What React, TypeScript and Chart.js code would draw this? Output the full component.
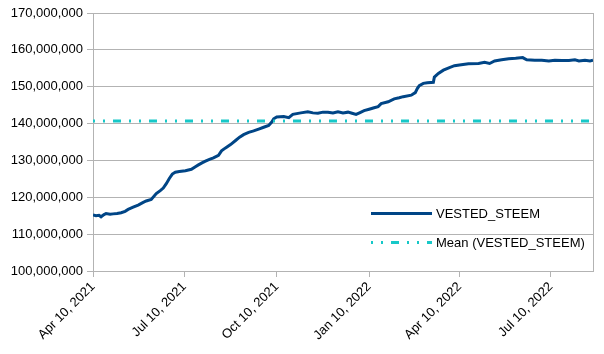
import React, { useEffect, useRef } from "react";
import { Chart, registerables } from "chart.js";

Chart.register(...registerables);

const START_DATE = "2021-04-10";
const END_DATE = "2022-08-21";

const dates: string[] = [
  "2021-04-10", "2021-04-13", "2021-04-16", "2021-04-18", "2021-04-21", "2021-04-23", "2021-04-27", "2021-04-30",
  "2021-05-04", "2021-05-08", "2021-05-12", "2021-05-15", "2021-05-20", "2021-05-25", "2021-05-30",
  "2021-06-02", "2021-06-07", "2021-06-12", "2021-06-16", "2021-06-19", "2021-06-22", "2021-06-25", "2021-06-28",
  "2021-07-01", "2021-07-05", "2021-07-11", "2021-07-17", "2021-07-21", "2021-07-24", "2021-07-28", "2021-07-31",
  "2021-08-04", "2021-08-08", "2021-08-13", "2021-08-16", "2021-08-20", "2021-08-25", "2021-08-30",
  "2021-09-03", "2021-09-07", "2021-09-12", "2021-09-17", "2021-09-22", "2021-09-27",
  "2021-10-02", "2021-10-05", "2021-10-07", "2021-10-10", "2021-10-17", "2021-10-22", "2021-10-26",
  "2021-11-03", "2021-11-10", "2021-11-15", "2021-11-20", "2021-11-25", "2021-11-30",
  "2021-12-05", "2021-12-10", "2021-12-15", "2021-12-20", "2021-12-24", "2021-12-28",
  "2022-01-01", "2022-01-05", "2022-01-10", "2022-01-15", "2022-01-19", "2022-01-22", "2022-01-29",
  "2022-02-04", "2022-02-09", "2022-02-13", "2022-02-21", "2022-02-25", "2022-02-27",
  "2022-03-01", "2022-03-05", "2022-03-09", "2022-03-15", "2022-03-16", "2022-03-20", "2022-03-25", "2022-03-31",
  "2022-04-05", "2022-04-10", "2022-04-19", "2022-04-29",
  "2022-05-05", "2022-05-10", "2022-05-15", "2022-05-22", "2022-05-29",
  "2022-06-05", "2022-06-12", "2022-06-16", "2022-06-24",
  "2022-07-01", "2022-07-08", "2022-07-14", "2022-07-21", "2022-07-28",
  "2022-08-03", "2022-08-07", "2022-08-13", "2022-08-18", "2022-08-21",
];

// VESTED_STEEM, in millions
const vestedMillions: number[] = [
  115.2, 115.0, 115.1, 114.7, 115.3, 115.6, 115.4, 115.5,
  115.6, 115.8, 116.2, 116.7, 117.3, 117.9, 118.6,
  119.0, 119.4, 121.0, 121.8, 122.5, 123.7, 125.1, 126.3,
  126.8, 127.0, 127.2, 127.6, 128.3, 128.8, 129.4, 129.8,
  130.3, 130.7, 131.4, 132.6, 133.4, 134.3, 135.4,
  136.3, 137.0, 137.6, 138.0, 138.5, 139.0,
  139.5, 140.4, 141.3, 141.8, 141.9, 141.6, 142.5,
  142.9, 143.2, 142.9, 142.8, 143.1, 143.1,
  142.9, 143.2, 142.9, 143.1, 142.8, 142.5,
  143.0, 143.5, 143.9, 144.3, 144.6, 145.4, 145.9,
  146.7, 147.0, 147.3, 147.7, 148.4, 149.5,
  150.3, 150.9, 151.1, 151.2, 152.6, 153.6, 154.5, 155.2,
  155.7, 155.9, 156.2, 156.3,
  156.6, 156.3, 157.0, 157.3, 157.6,
  157.7, 157.9, 157.3, 157.2,
  157.2, 157.0, 157.2, 157.1, 157.1,
  157.3, 157.0, 157.2, 157.0, 157.2,
];

const MEAN_VALUE = 140700000;

const xTickDates: string[] = ["2021-04-10", "2021-07-10", "2021-10-10", "2022-01-10", "2022-04-10", "2022-07-10"];
const xTickLabels: string[] = ["Apr 10, 2021", "Jul 10, 2021", "Oct 10, 2021", "Jan 10, 2022", "Apr 10, 2022", "Jul 10, 2022"];

const Y_MIN = 100000000;
const Y_MAX = 170000000;
const Y_STEP = 10000000;

const seriesLabel = "VESTED_STEEM";
const meanLabel = "Mean (VESTED_STEEM)";

const MAIN_COLOR = "#004586";
const MEAN_COLOR = "#17c8c8";
const GRID_COLOR = "#b3b3b3";
const FONT = "'Liberation Sans', Arial, sans-serif";
const MEAN_DASH = [8, 8, 2, 8, 2, 8];

const dayOf = (d: string) => (Date.parse(d) - Date.parse(START_DATE)) / 86400000;

export default function App() {
  const ref = useRef<HTMLCanvasElement | null>(null);

  useEffect(() => {
    if (!ref.current) return;
    const xMax = dayOf(END_DATE);

    const framePlugin = {
      id: "frame",
      beforeDatasetsDraw(chart: any) {
        const { ctx, chartArea } = chart;
        ctx.save();
        ctx.strokeStyle = GRID_COLOR;
        ctx.lineWidth = 1;
        ctx.beginPath();
        ctx.moveTo(Math.round(chartArea.right) + 0.5, chartArea.top);
        ctx.lineTo(Math.round(chartArea.right) + 0.5, chartArea.bottom);
        ctx.stroke();
        ctx.restore();
      },
    };

    const legendPlugin = {
      id: "innerLegend",
      afterDatasetsDraw(chart: any) {
        const { ctx } = chart;
        ctx.save();
        ctx.font = `13px ${FONT}`;
        ctx.fillStyle = "#000";
        ctx.textBaseline = "middle";
        ctx.textAlign = "left";
        // entry 1
        ctx.strokeStyle = MAIN_COLOR;
        ctx.lineWidth = 3;
        ctx.setLineDash([]);
        ctx.beginPath();
        ctx.moveTo(371, 213.5);
        ctx.lineTo(432, 213.5);
        ctx.stroke();
        ctx.fillText(seriesLabel, 436, 214);
        // entry 2
        ctx.strokeStyle = MEAN_COLOR;
        ctx.setLineDash(MEAN_DASH);
        ctx.lineDashOffset = 16;
        ctx.beginPath();
        ctx.moveTo(371, 242.5);
        ctx.lineTo(432, 242.5);
        ctx.stroke();
        ctx.setLineDash([]);
        ctx.fillText(meanLabel, 436, 243);
        ctx.restore();
      },
    };

    const chart = new Chart(ref.current, {
      type: "line",
      data: {
        datasets: [
          {
            label: meanLabel,
            data: [
              { x: 0, y: MEAN_VALUE },
              { x: xMax, y: MEAN_VALUE },
            ],
            borderColor: MEAN_COLOR,
            borderWidth: 3,
            borderDash: MEAN_DASH,
            borderDashOffset: 16,
            borderCapStyle: "butt",
            pointRadius: 0,
            fill: false,
          },
          {
            label: seriesLabel,
            data: dates.map((d, i) => ({ x: dayOf(d), y: vestedMillions[i] * 1000000 })),
            borderColor: MAIN_COLOR,
            borderWidth: 3,
            pointRadius: 0,
            tension: 0,
            fill: false,
          },
        ],
      },
      options: {
        animation: false,
        responsive: false,
        events: [],
        layout: { padding: { left: 0, right: 11, top: 13, bottom: 0 } },
        plugins: {
          legend: { display: false },
          tooltip: { enabled: false },
        },
        scales: {
          x: {
            type: "linear",
            min: 0,
            max: xMax,
            grid: {
              display: true,
              drawOnChartArea: false,
              drawTicks: true,
              tickLength: 6,
              color: GRID_COLOR,
            },
            border: { display: true, color: GRID_COLOR },
            afterBuildTicks: (scale: any) => {
              scale.ticks = xTickDates.map((d) => ({ value: dayOf(d) }));
            },
            afterFit: (scale: any) => {
              scale.height = 83;
            },
            ticks: {
              autoSkip: false,
              minRotation: 45,
              maxRotation: 45,
              padding: 2,
              color: "#000",
              font: { family: FONT, size: 13 },
              callback: (value: any) => {
                const idx = xTickDates.findIndex((d) => Math.abs(dayOf(d) - Number(value)) < 0.01);
                return idx >= 0 ? xTickLabels[idx] : "";
              },
            },
          },
          y: {
            type: "linear",
            min: Y_MIN,
            max: Y_MAX,
            grid: {
              color: GRID_COLOR,
              tickLength: 6,
              drawTicks: true,
            },
            border: { display: true, color: GRID_COLOR },
            afterFit: (scale: any) => {
              scale.width = 93;
            },
            ticks: {
              stepSize: Y_STEP,
              padding: 4,
              color: "#000",
              font: { family: FONT, size: 13 },
              callback: (value: any) => Number(value).toLocaleString("en-US"),
            },
          },
        },
      },
      plugins: [framePlugin, legendPlugin],
    } as any);

    return () => chart.destroy();
  }, []);

  return (
    <div style={{ position: "absolute", left: 0, top: 0, width: 604, height: 354, background: "#fff" }}>
      <canvas ref={ref} width={604} height={354} style={{ width: 604, height: 354 }} />
    </div>
  );
}
